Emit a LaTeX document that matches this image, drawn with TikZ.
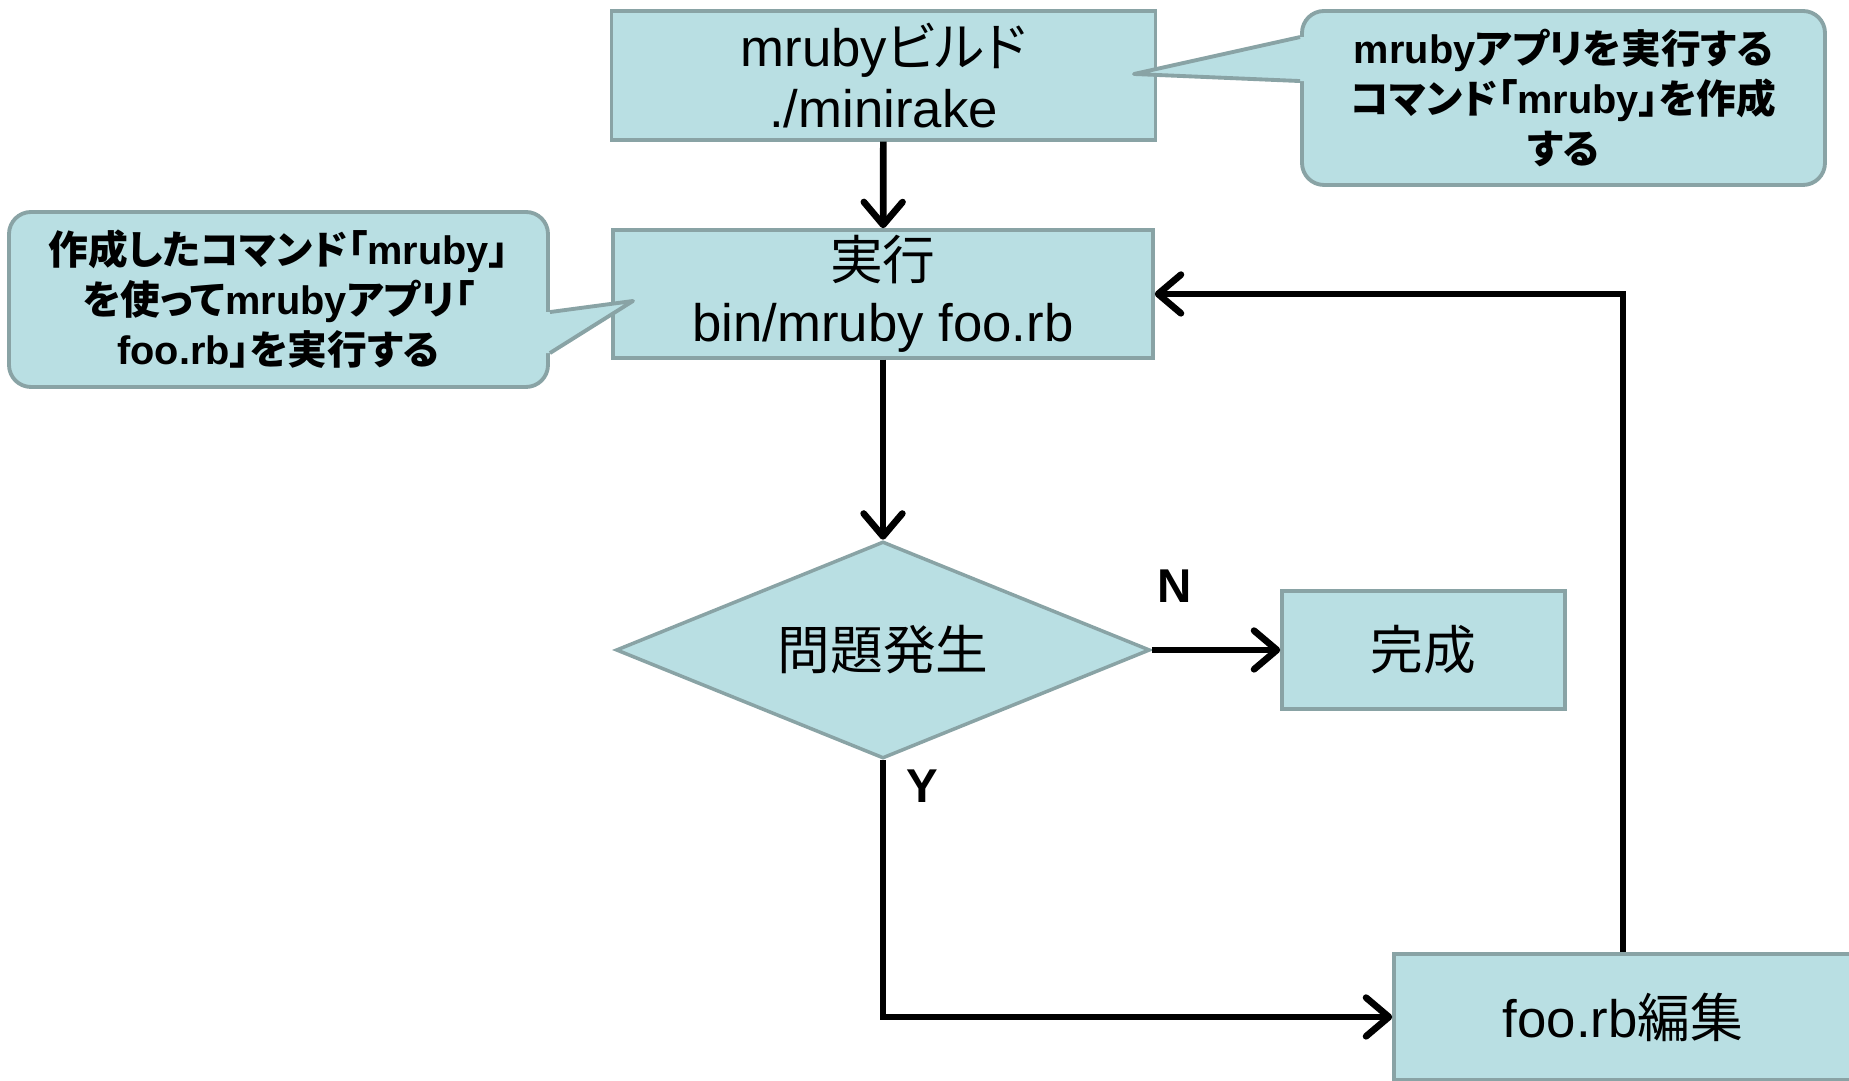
\documentclass[tikz,border=0pt]{standalone}
\usepackage{fontspec}
\setmainfont{Liberation Sans}
\newfontfamily\jpfont{Noto Sans CJK JP}[RawFeature={+palt}]
\newcommand{\jp}[1]{{\jpfont #1}}
\usepackage{tikz}
\usetikzlibrary{arrows.meta,positioning,calc,shapes.geometric}
\definecolor{boxfill}{RGB}{185,223,227}
\definecolor{boxline}{RGB}{137,163,165}

\begin{document}
\begin{tikzpicture}[
  flowbox/.style={draw=boxline, fill=boxfill, line width=1pt, align=center,
    inner sep=0pt, font=\fontsize{15}{17.5}\selectfont},
  decision/.style={flowbox, diamond, shape aspect=2.4},
  callbox/.style={draw=boxline, fill=boxfill, line width=1.1pt,
    rounded corners=0.22cm, align=center, inner sep=0pt,
    font=\fontsize{11.3}{14.2}\selectfont\bfseries},
  pointer/.style={draw=boxline, line width=1.1pt, line join=round},
  flow/.style={line width=1.9pt, -{Straight Barb[round,length=6.5pt,width=11pt]}},
  yn/.style={font=\fontsize{13.5}{16}\selectfont\bfseries, inner sep=0pt}
]
\useasboundingbox (0,0) rectangle (18.49,-10.81);

% flow boxes
\node[flowbox, minimum width=5.44cm, minimum height=1.29cm] (build) at (8.835,-0.755)
  {mruby\jp{ビルド}\\./minirake};
\node[flowbox, minimum width=5.40cm, minimum height=1.28cm] (run) at (8.83,-2.94)
  {\jp{実行}\\bin/mruby foo.rb};
\node[decision, minimum width=5.34cm, minimum height=2.17cm] (check) at (8.83,-6.50)
  {\jp{問題発生}};
\node[flowbox, minimum width=2.83cm, minimum height=1.18cm] (done) at (14.235,-6.50)
  {\jp{完成}};
\node[flowbox, minimum width=4.58cm, minimum height=1.26cm] (edit) at (16.23,-10.17)
  {foo.rb\jp{編集}};

% connectors
\draw[flow] (build) -- (run);
\draw[flow] (run) -- (check);
\draw[flow] (check) -- node[yn, pos=0.18, above=0.44cm] {N} (done);
\draw[flow] (check.south) |- node[yn, pos=0.05, right=0.2cm] {Y} (edit);
\draw[flow] (edit.north) |- (run.east);

% callouts
\node[callbox, minimum width=5.23cm, minimum height=1.74cm] (appnote) at (15.635,-0.98)
  {mruby\jp{アプリを実行する}\\\jp{コマンド「}mruby\jp{」を作成}\\\jp{する}};
\coordinate (apptip) at (11.34,-0.74);
\fill[boxfill] ($(appnote.north west)+(0,-0.28)$) -- (apptip)
  -- ($(appnote.north west)+(0,-0.72)$) -- ++(0.06,0)
  -- ($(appnote.north west)+(0.06,-0.28)$) -- cycle;
\draw[pointer] ($(appnote.north west)+(0,-0.28)$) -- (apptip)
  -- ($(appnote.north west)+(0,-0.72)$);

\node[callbox, minimum width=5.39cm, minimum height=1.75cm] (runnote) at (2.785,-2.995)
  {\jp{作成したコマンド「}mruby\jp{」}\\\jp{を使って}mruby\jp{アプリ「}\\foo.rb\jp{」を実行する}};
\coordinate (runtip) at (6.33,-3.01);
\fill[boxfill] ($(runnote.north east)+(0,-1.02)$) -- (runtip)
  -- ($(runnote.north east)+(0,-1.43)$) -- ++(-0.06,0)
  -- ($(runnote.north east)+(-0.06,-1.02)$) -- cycle;
\draw[pointer] ($(runnote.north east)+(0,-1.02)$) -- (runtip)
  -- ($(runnote.north east)+(0,-1.43)$);
\end{tikzpicture}
\end{document}
